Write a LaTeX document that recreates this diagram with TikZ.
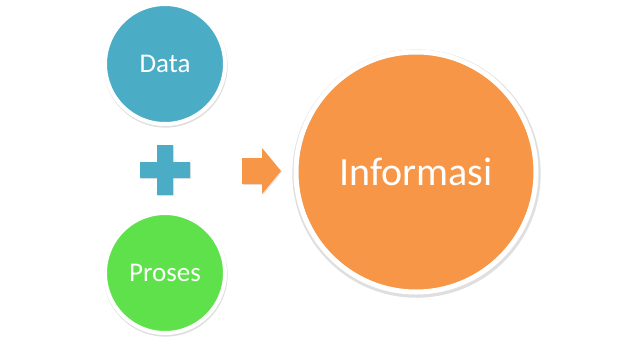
\documentclass[tikz,border=0pt]{standalone}
\usepackage{fontspec}
\setmainfont{Carlito}
\usetikzlibrary{shadows}

\definecolor{databiru}{HTML}{4BACC6}
\definecolor{prosesijo}{HTML}{5EE14A}
\definecolor{infooranye}{HTML}{F79646}

\begin{document}
\begin{tikzpicture}[x=1pt,y=-1pt,
    bulat/.style={circle,draw=white,inner sep=0pt,text=white,
        drop shadow={opacity=0.25,shadow scale=1.035,shadow xshift=0.5pt,shadow yshift=-1.5pt}},
    bayang/.style={drop shadow={opacity=0.2,shadow xshift=1pt,shadow yshift=-1pt}}]

% Canvas
\useasboundingbox (0,0) rectangle (640,346);

% Circles
\node[bulat,fill=databiru,line width=4pt,minimum size=120pt,font=\fontsize{27}{30}\selectfont]
    (data) at (165,64) {Data};
\node[bulat,fill=prosesijo,line width=4pt,minimum size=120pt,font=\fontsize{27}{30}\selectfont]
    (proses) at (165,273) {Proses};
\node[bulat,fill=infooranye,line width=5pt,minimum size=240pt,font=\fontsize{40}{44}\selectfont]
    (informasi) at (416,172) {Informasi};

% Plus sign
\fill[databiru,bayang]
    (157,145) -- (173,145) -- (173,162) -- (190,162) -- (190,178) -- (173,178)
    -- (173,195) -- (157,195) -- (157,178) -- (140,178) -- (140,162) -- (157,162)
    -- cycle;

% Arrow
\fill[infooranye,bayang]
    (242,158) -- (262,158) -- (262,148) -- (281,171) -- (262,194) -- (262,184)
    -- (242,184) -- cycle;

\end{tikzpicture}
\end{document}
